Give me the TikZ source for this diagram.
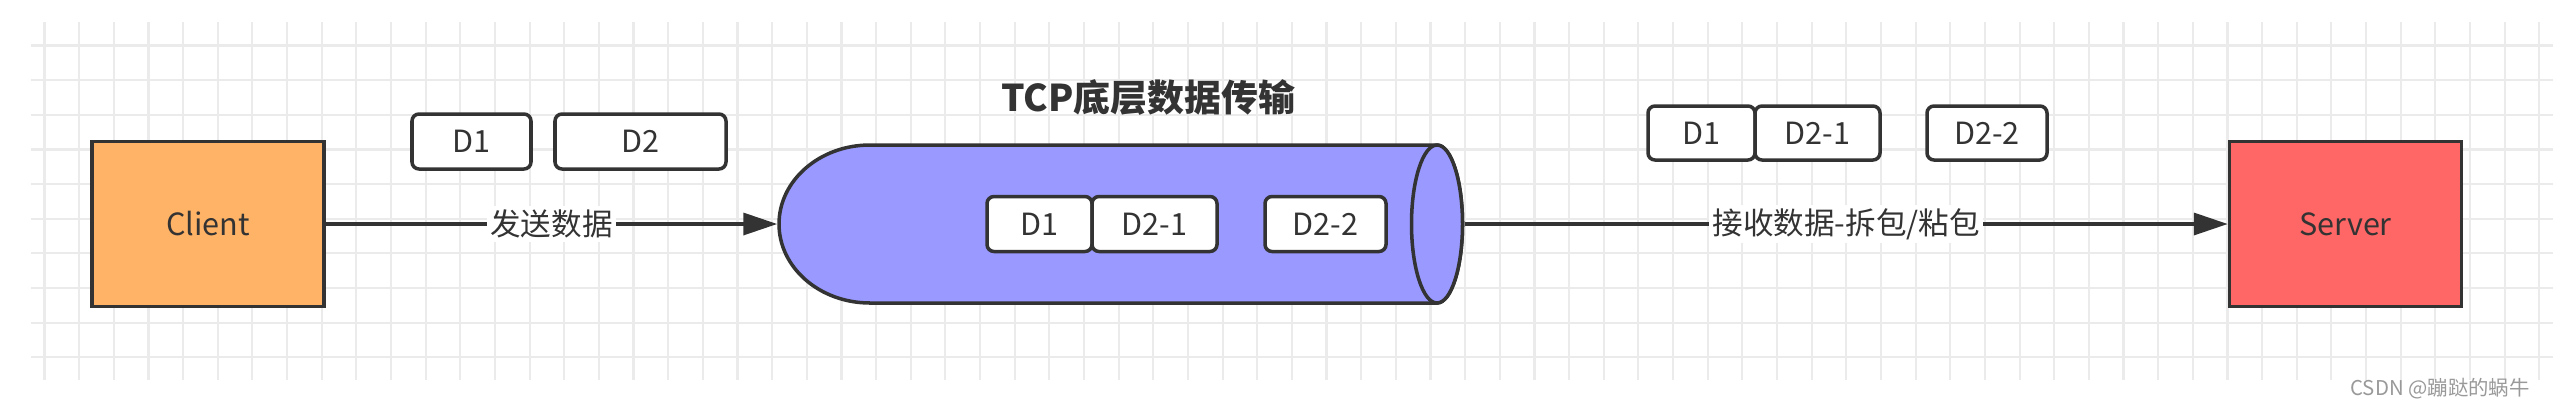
\documentclass[tikz,border=0pt]{standalone}
\usepackage{fontspec}
\setmainfont{Noto Sans CJK SC}
\usepackage{xcolor}
\usetikzlibrary{positioning, arrows.meta, calc}

\definecolor{lineGray}{HTML}{333333}
\definecolor{gridGray}{HTML}{EBEBEB}
\definecolor{clientOrange}{HTML}{FFB366}
\definecolor{serverRed}{HTML}{FF6666}
\definecolor{pipeBlue}{HTML}{9999FF}

\begin{document}
\begin{tikzpicture}[
    line width=1pt,
    font=\fontsize{8.7pt}{10pt}\selectfont,
    endpoint/.style={draw=lineGray, rectangle, minimum width=2.32cm, minimum height=1.65cm, inner sep=0pt, text=lineGray},
    packet/.style={draw=lineGray, fill=white, rectangle, rounded corners=2pt, minimum height=0.55cm, inner sep=0pt, outer sep=0pt, text=lineGray},
    flow/.style={draw=lineGray, -{Triangle[length=3.4mm, width=2.2mm]}},
    flowlabel/.style={fill=white, text=lineGray, inner sep=1pt}
]
    % Canvas and grid
    \useasboundingbox (0, 2.24) rectangle (25.6, -1.82);
    \foreach \i in {0,...,72}
        \draw[gridGray, line width=0.6pt] (0.445+0.3465*\i, 2.02) -- (0.445+0.3465*\i, -1.56);
    \foreach \j in {0,...,9}
        \draw[gridGray, line width=0.6pt] (0.31, 1.785-0.3465*\j) -- (25.53, 1.785-0.3465*\j);

    % Client and Server Nodes
    \node[endpoint, fill=clientOrange] (client) at (2.08, 0) {Client};
    \node[endpoint, fill=serverRed] (server) at (23.455, 0) {Server};

    % TCP pipe
    \node[minimum width=6.84cm, minimum height=1.58cm, inner sep=0pt] (pipe) at (11.21, 0) {};
    \draw[lineGray, fill=pipeBlue] (14.37, 0.79) -- (8.70, 0.79)
        arc[start angle=90, end angle=270, x radius=0.91, y radius=0.79] -- (14.37, -0.79)
        arc[start angle=-90, end angle=90, x radius=0.255, y radius=0.79] -- cycle;
    \draw[lineGray, fill=pipeBlue] (14.37, 0) ellipse [x radius=0.255, y radius=0.79];
    \node[font=\fontsize{10.5pt}{12pt}\selectfont\bfseries, text=lineGray] (title) at (11.48, 1.265) {TCP底层数据传输};

    % Packets before sending
    \node[packet, minimum width=1.19cm] (sendA) at (4.715, 0.825) {D1};
    \node[packet, minimum width=1.71cm] (sendB) at (6.405, 0.825) {D2};

    % Packets inside the pipe
    \node[packet, minimum width=1.05cm] (pipeA) at (10.395, 0) {D1};
    \node[packet, minimum width=1.25cm, right=0pt of pipeA] (pipeB) {D2-1};
    \node[packet, minimum width=1.21cm] (pipeC) at (13.255, 0) {D2-2};

    % Packets after receiving
    \node[packet, minimum width=1.07cm, minimum height=0.54cm] (recvA) at (17.015, 0.91) {D1};
    \node[packet, minimum width=1.25cm, minimum height=0.54cm, right=0pt of recvA] (recvB) {D2-1};
    \node[packet, minimum width=1.20cm, minimum height=0.54cm] (recvC) at (19.87, 0.91) {D2-2};

    % Arrows
    \draw[flow] (client) -- (pipe) node[midway, flowlabel] {发送数据};
    \draw[flow] (pipe) -- (server) node[midway, flowlabel] {接收数据-拆包/粘包};

    % Watermark
    \node[anchor=east, text=gray!80, font=\fontsize{5.8pt}{7pt}\selectfont] (mark) at (25.43, -1.65) {CSDN @蹦跶的蜗牛};
\end{tikzpicture}
\end{document}
